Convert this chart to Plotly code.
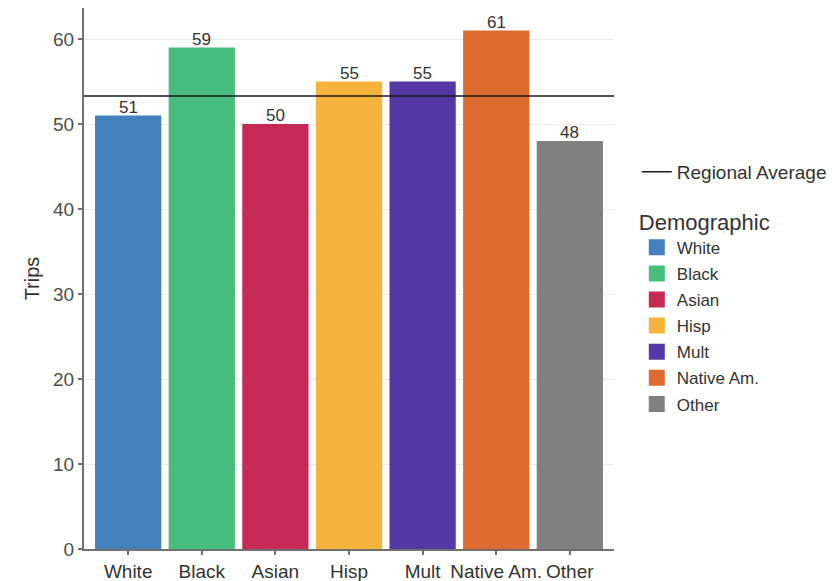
import plotly.graph_objects as go

categories = ["White", "Black", "Asian", "Hisp", "Mult", "Native Am.", "Other"]
trips = [51, 59, 50, 55, 55, 61, 48]
colors = ["#4281BC", "#47BD7E", "#C62953", "#F4B43C", "#5439A6", "#DC6B2F", "#808080"]
regional_average = 53.3
y_ticks = [0, 10, 20, 30, 40, 50, 60]

FONT = "Liberation Sans, Arial, sans-serif"

fig = go.Figure()

# bars
fig.add_trace(go.Bar(
    x=categories, y=trips, marker=dict(color=colors, line=dict(width=0)),
    width=0.9, showlegend=False, hoverinfo="x+y",
))

# value labels
for c, v in zip(categories, trips):
    fig.add_annotation(
        x=c, y=v, text=str(v), showarrow=False, yanchor="bottom", yshift=-3,
        font=dict(family=FONT, size=17, color="#333333"),
    )

# legend entries for demographic
for c, col in zip(categories, colors):
    fig.add_trace(go.Scatter(
        x=[None], y=[None], mode="markers", name=c,
        marker=dict(symbol="square", size=20, color=col),
        legend="legend2", legendgroup=c, showlegend=True,
    ))

# regional average line
fig.add_hline(y=regional_average, line=dict(color="#1a1a1a", width=1.5),
              showlegend=True, name="Regional Average", legend="legend")

fig.update_layout(
    width=837, height=581,
    margin=dict(l=76, r=231, t=0, b=40),
    paper_bgcolor="white", plot_bgcolor="white",
    font=dict(family=FONT, color="#4D4D4D", size=18),
    bargap=0.1,
    xaxis=dict(
        range=[-0.6, 6.6], showgrid=False, showline=True, linecolor="#707070", linewidth=2,
        ticks="outside", ticklen=4, tickcolor="#707070", tickwidth=1.5,
        tickfont=dict(family=FONT, size=19, color="#333333"),
    ),
    yaxis=dict(
        range=[0, 63.65], tickvals=y_ticks, showgrid=True, gridcolor="#EBEBEB", gridwidth=1.2,
        showline=True, linecolor="#707070", linewidth=2, zeroline=False,
        ticks="outside", ticklen=4, tickcolor="#707070", tickwidth=1.5,
        tickfont=dict(family=FONT, size=19, color="#4D4D4D"),
        title=dict(text="Trips", font=dict(family=FONT, size=20, color="#333333"), standoff=8),
    ),
    legend=dict(
        x=1.043, y=0.732, xanchor="left", yanchor="top",
        font=dict(family=FONT, size=19, color="#333333"),
        bgcolor="rgba(0,0,0,0)",
    ),
    legend2=dict(
        x=1.043, y=0.643, xanchor="left", yanchor="top",
        title=dict(text="Demographic", font=dict(family=FONT, size=22, color="#333333")),
        font=dict(family=FONT, size=17, color="#333333"),
        traceorder="grouped", tracegroupgap=1, itemsizing="trace",
        bgcolor="rgba(0,0,0,0)",
    ),
)

fig.write_html("out.html")
